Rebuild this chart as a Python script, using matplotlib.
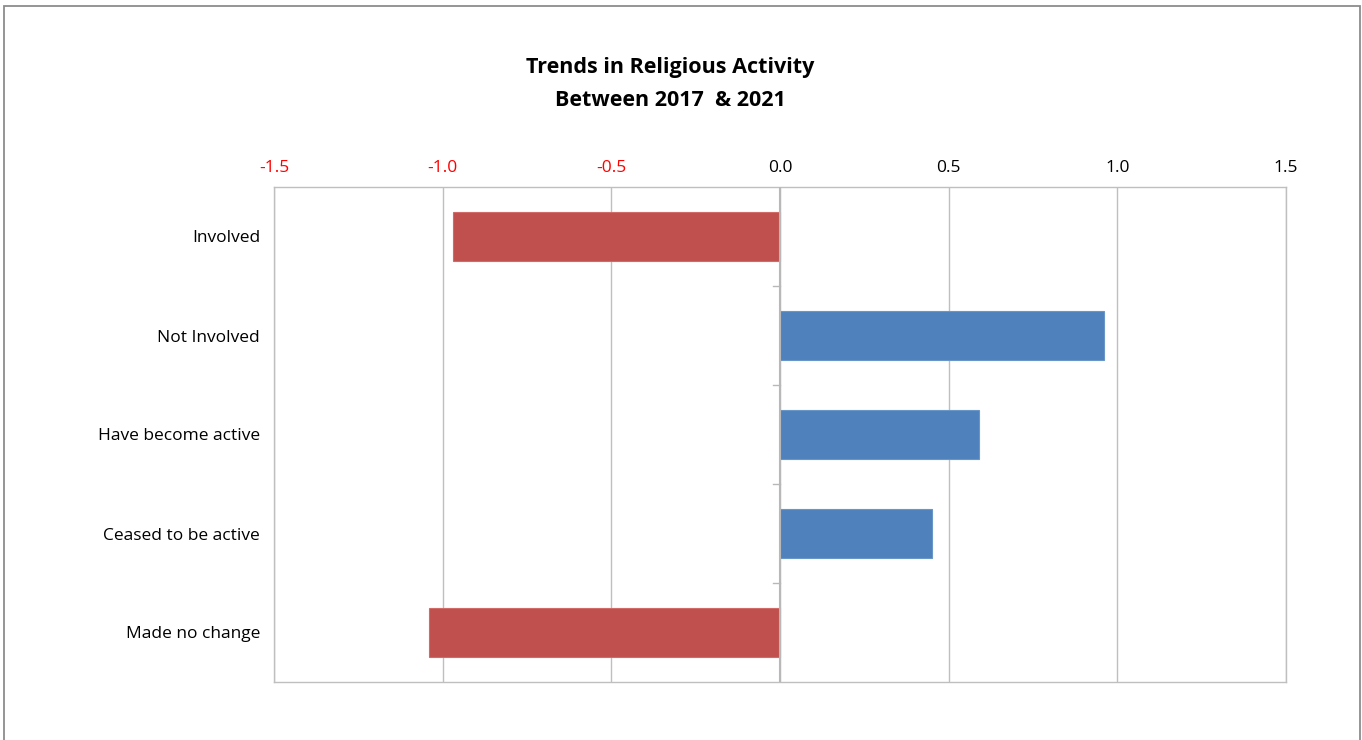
import matplotlib
matplotlib.use("Agg")
import matplotlib.pyplot as plt
from matplotlib.patches import Rectangle

categories = ["Involved", "Not Involved", "Have become active", "Ceased to be active", "Made no change"]
values = [-0.97, 0.96, 0.59, 0.45, -1.04]
xticks = [-1.5, -1.0, -0.5, 0.0, 0.5, 1.0, 1.5]
xtick_labels = ["-1.5", "-1.0", "-0.5", "0.0", "0.5", "1.0", "1.5"]
title_lines = ["Trends in Religious Activity", "Between 2017  & 2021"]

RED = "#C0504D"
BLUE = "#4F81BD"
GRID = "#BFBFBF"
FONT = ["Open Sans", "DejaVu Sans"]

plt.rcParams["font.family"] = FONT

fig = plt.figure(figsize=(13.62, 7.40), dpi=100)
fig.patch.set_facecolor("white")

# outer chart border
border = Rectangle((4 / 1362, -0.05), (1360 - 4) / 1362, 1 - 6 / 740 + 0.05,
                   transform=fig.transFigure, fill=False, edgecolor="#8C8C8C",
                   linewidth=1.3, clip_on=False)
fig.patches.append(border)

ax = fig.add_axes([274 / 1362, 1 - 682 / 740, (1286 - 274) / 1362, (682 - 187) / 740])

n = len(categories)
ypos = list(range(n))
colors = [RED if v < 0 else BLUE for v in values]
edgecolors = ["#D26B68" if v < 0 else "#6A95C8" for v in values]
ax.barh(ypos, values, height=0.5, color=colors, edgecolor=edgecolors, linewidth=0.8, zorder=3)

ax.set_xlim(-1.5, 1.5)
ax.set_ylim(n - 0.5, -0.5)

ax.xaxis.tick_top()
ax.set_xticks(xticks)
ax.set_xticklabels(xtick_labels, fontsize=12.5)
for lab, v in zip(ax.get_xticklabels(), xticks):
    lab.set_color("#FF0000" if v < 0 else "black")
ax.tick_params(axis="x", length=0, pad=8)
ax.grid(axis="x", color=GRID, linewidth=1.0, zorder=0)

ax.set_yticks(ypos)
ax.set_yticklabels(categories, fontsize=12.5)
ax.tick_params(axis="y", length=0, pad=10)

for s in ax.spines.values():
    s.set_color(GRID)
    s.set_linewidth(1.0)

# zero axis line
ax.axvline(0, color="#B8B8B8", linewidth=1.5, zorder=4)
# category boundary ticks on the zero axis
for b in range(1, n):
    ax.plot([-0.02, 0], [b - 0.5, b - 0.5], color="#B8B8B8", linewidth=1.0, zorder=4)

fig.text(670 / 1362, 1 - 67 / 740, title_lines[0], ha="center", va="center",
         fontsize=15.5, fontweight="bold")
fig.text(670 / 1362, 1 - 100 / 740, title_lines[1], ha="center", va="center",
         fontsize=15.5, fontweight="bold")

fig.savefig("out.png", dpi=100)
